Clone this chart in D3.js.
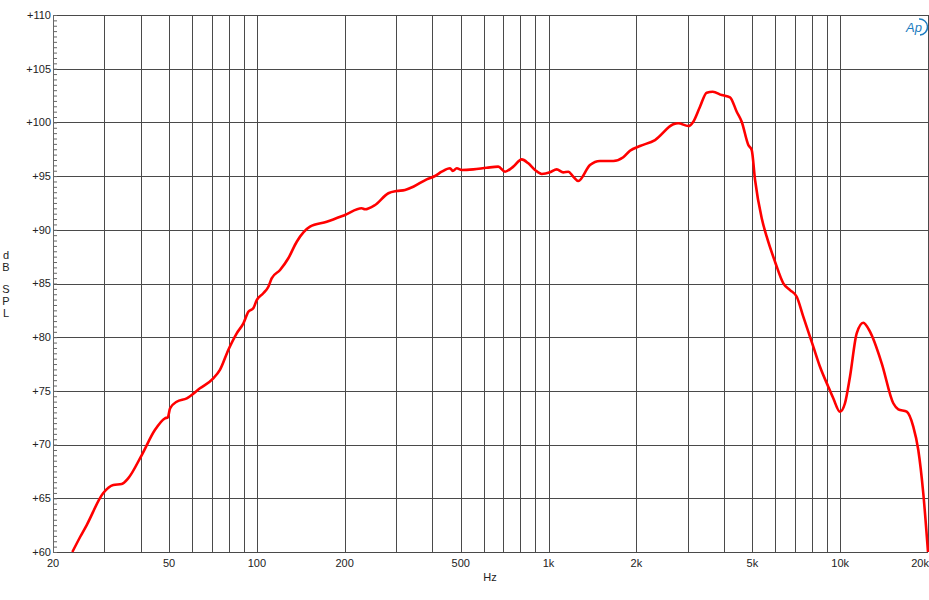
<!DOCTYPE html>
<html>
<head>
<meta charset="utf-8">
<script src="https://cdn.jsdelivr.net/npm/d3@7"></script>
<style>
  body { margin: 0; background: #fff; }
  svg { display: block; font-family: "Liberation Sans", Arial, sans-serif; }
</style>
</head>
<body>
<div id="chart"></div>
<script>
// frequency response
const freqHz = [23.3, 24.8, 26.1, 29.7, 32.2, 34.4, 36.2, 40.3, 44.7, 48.4, 49.5, 50.4, 53.1, 57.5,
  63.8, 70.9, 74.7, 79.8, 85.3, 89.9, 93.5, 97.2, 99.9, 105.2, 109.5, 112.4, 120.1, 128.2, 137,
  152.1, 173.6, 200.5, 228.8, 234.8, 254.2, 282.4, 301.7, 322.1, 343.9, 382.2, 408.1, 430.3,
  459.5, 469.5, 484.5, 503.8, 552.2, 613.8, 672.5, 709.1, 757.2, 809.2, 852.5, 898.8, 947.6,
  1011.6, 1066.6, 1123.5, 1168.8, 1216, 1265, 1387, 1501, 1667, 1804, 1902, 2058, 2318, 2678,
  2784, 3014, 3136, 3306, 3486, 3655, 3924, 4190, 4418, 4595, 4842, 4973, 5106, 5382, 5598,
  5977, 6382, 6731, 7095, 7472, 8087, 8526, 9102, 9468, 9981, 10384, 10803, 11390, 12000,
  12652, 13878, 15206, 15820, 16904, 17806, 18524, 19268, 20000]
const splDb = [60.0, 61.42, 62.51, 65.47, 66.24, 66.33, 66.86, 69.03, 71.36, 72.45, 72.54, 73.38,
  73.99, 74.31, 75.24, 76.17, 76.95, 78.81, 80.36, 81.29, 82.37, 82.69, 83.46, 84.09, 84.7,
  85.48, 86.26, 87.35, 88.89, 90.29, 90.75, 91.38, 92.0, 91.91, 92.31, 93.4, 93.61, 93.71,
  94.01, 94.7, 95.01, 95.41, 95.73, 95.48, 95.73, 95.57, 95.63, 95.78, 95.88, 95.41, 95.88,
  96.56, 96.19, 95.57, 95.2, 95.35, 95.63, 95.35, 95.41, 94.94, 94.54, 96.03, 96.41, 96.41,
  96.75, 97.36, 97.8, 98.36, 99.82, 99.92, 99.66, 100.07, 101.46, 102.77, 102.86, 102.55,
  102.34, 100.99, 100.06, 97.9, 97.43, 94.64, 91.07, 89.36, 87.03, 85.02, 84.39, 83.77, 81.91,
  79.12, 77.25, 75.39, 74.31, 73.06, 73.85, 76.32, 80.36, 81.35, 80.51, 77.57, 73.85, 73.29,
  73.06, 71.67, 69.5, 65.47, 60.0]

const gridFreqs = [20, 30, 40, 50, 60, 70, 80, 90, 100, 200, 300, 400, 500, 600, 700, 800, 900,
  1000, 2000, 3000, 4000, 5000, 6000, 7000, 8000, 9000, 10000, 20000]
const xTickVals = [20, 50, 100, 200, 500, 1000, 2000, 5000, 10000, 20000]
const xTickText = ["20", "50", "100", "200", "500", "1k", "2k", "5k", "10k", "20k"]
const yTickVals = [60, 65, 70, 75, 80, 85, 90, 95, 100, 105, 110]

const MARGIN = { TOP: 15, LEFT: 53 }
const WIDTH = 875
const HEIGHT = 537

const svg = d3.select("#chart").append("svg")
  .attr("width", 929)
  .attr("height", 600)

const g = svg.append("g")
  .attr("transform", `translate(${MARGIN.LEFT}, ${MARGIN.TOP})`)

const x = d3.scaleLog().domain([20, 20000]).range([0, WIDTH])
const y = d3.scaleLinear().domain([60, 110]).range([HEIGHT, 0])

// grid
g.selectAll(".vgrid").data(gridFreqs).enter().append("line")
  .attr("x1", d => Math.round(x(d)) + 0.5)
  .attr("x2", d => Math.round(x(d)) + 0.5)
  .attr("y1", 0).attr("y2", HEIGHT)
  .attr("stroke", "#4a4a4a").attr("stroke-width", 1)

g.selectAll(".hgrid").data(yTickVals).enter().append("line")
  .attr("x1", 0).attr("x2", WIDTH)
  .attr("y1", d => Math.round(y(d)) + 0.5)
  .attr("y2", d => Math.round(y(d)) + 0.5)
  .attr("stroke", "#4a4a4a").attr("stroke-width", 1)

// left axis with minor ticks every 0.5 dB
const yAxis = d3.axisRight(y)
  .ticks(100)
  .tickSize(4)
  .tickFormat("")
g.append("g").attr("class", "yaxis").call(yAxis)
  .call(s => s.select(".domain").remove())
  .selectAll("line").attr("stroke", "#666")

g.append("line")
  .attr("x1", 0.5).attr("x2", 0.5).attr("y1", 0).attr("y2", HEIGHT)
  .attr("stroke", "#666")

g.selectAll(".ylab").data(yTickVals).enter().append("text")
  .attr("x", -2)
  .attr("y", d => y(d))
  .attr("dy", "0.35em")
  .attr("text-anchor", "end")
  .style("font-size", "11px")
  .attr("fill", "#222")
  .text(d => "+" + d)

// last label sits flush with the right edge
g.selectAll(".xlab").data(xTickVals).enter().append("text")
  .attr("x", (d, i) => i === xTickVals.length - 1 ? x(d) + 1 : x(d))
  .attr("y", HEIGHT + 15)
  .attr("text-anchor", (d, i) => i === xTickVals.length - 1 ? "end" : "middle")
  .style("font-size", "11px")
  .attr("fill", "#222")
  .text((d, i) => xTickText[i])

svg.append("text")
  .attr("x", 490).attr("y", 581)
  .attr("text-anchor", "middle")
  .style("font-size", "11px")
  .attr("fill", "#222")
  .text("Hz")

// dB SPL stacked letters
const yLetters = [["d", 259], ["B", 271], ["S", 293], ["P", 305], ["L", 317]]
svg.selectAll(".ylet").data(yLetters).enter().append("text")
  .attr("x", 6).attr("y", d => d[1])
  .attr("text-anchor", "middle")
  .style("font-size", "11px")
  .attr("fill", "#222")
  .text(d => d[0])

// response curve
const data = freqHz.map((f, i) => ({ f: f, v: splDb[i] }))
const line = d3.line()
  .x(d => x(d.f))
  .y(d => y(d.v))
  .curve(d3.curveMonotoneX)

g.append("path")
  .datum(data)
  .attr("fill", "none")
  .attr("stroke", "#ff0000")
  .attr("stroke-width", 2.6)
  .attr("stroke-linejoin", "round")
  .attr("d", line)

// AP logo
const logo = svg.append("g").attr("transform", "translate(903, 20)")
logo.append("text")
  .attr("x", 3).attr("y", 12)
  .style("font-size", "13px")
  .style("font-style", "italic")
  .attr("fill", "#1c7cc0")
  .text("Ap")
logo.append("path")
  .attr("d", "M16,-1 A8,8 0 0 1 17,15")
  .attr("fill", "none")
  .attr("stroke", "#1c7cc0")
  .attr("stroke-width", 1.5)
</script>
</body>
</html>
